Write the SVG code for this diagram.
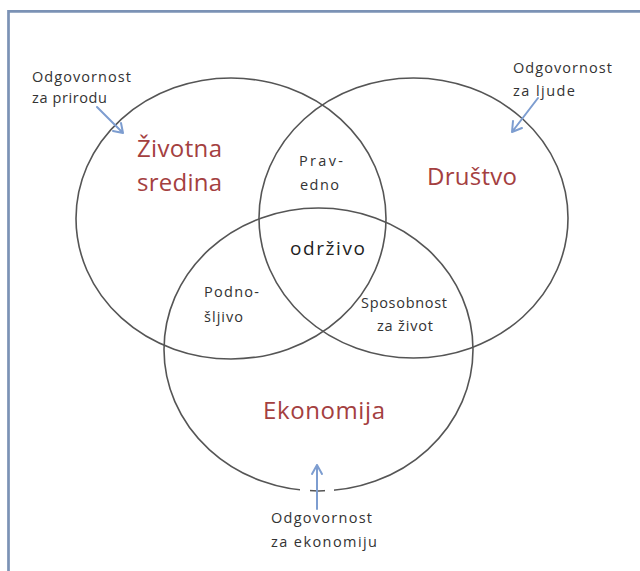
<svg xmlns="http://www.w3.org/2000/svg" width="640" height="571" viewBox="0 0 640 571">
<style>
.circ{fill:none;stroke:#555;stroke-width:1.6}
.big{font-family:"Open Sans","Liberation Sans",sans-serif;font-size:24px;fill:#a4403f}
.sm{font-family:"Open Sans","Liberation Sans",sans-serif;font-size:14.5px;fill:#333}
.mid{font-family:"Open Sans","Liberation Sans",sans-serif;font-size:19px;fill:#222}
.arr{fill:none;stroke:#7d9dd0;stroke-width:2;stroke-linecap:round;stroke-linejoin:round}
</style>
<rect width="640" height="571" fill="#fff"/>
<path d="M8.5,571 V11.3 H640" fill="none" stroke="#7b92b5" stroke-width="2.7"/>
<g id="zivotna-sredina">
<ellipse class="circ" cx="231" cy="218.5" rx="155" ry="140.5"/>
<text class="big" x="137" y="157" textLength="85" lengthAdjust="spacing">Životna</text>
<text class="big" x="137" y="191" textLength="85" lengthAdjust="spacing">sredina</text>
</g>
<g id="drustvo">
<ellipse class="circ" cx="413.5" cy="218" rx="154.5" ry="140"/>
<text class="big" x="427" y="185" textLength="90" lengthAdjust="spacing">Društvo</text>
</g>
<g id="ekonomija">
<ellipse class="circ" cx="318.5" cy="349.5" rx="154.5" ry="141.5"/>
<text class="big" x="263" y="419" textLength="122" lengthAdjust="spacing">Ekonomija</text>
</g>
<g id="pravedno">
<text class="sm" x="299" y="166" textLength="44" lengthAdjust="spacing">Prav-</text>
<text class="sm" x="300" y="190" textLength="39" lengthAdjust="spacing">edno</text>
</g>
<g id="odrzivo">
<text class="mid" x="290" y="255" textLength="75" lengthAdjust="spacing">održivo</text>
</g>
<g id="podnosljivo">
<text class="sm" x="204" y="297" textLength="55" lengthAdjust="spacing">Podno-</text>
<text class="sm" x="204" y="322" textLength="39" lengthAdjust="spacing">šljivo</text>
</g>
<g id="sposobnost">
<text class="sm" x="361" y="308" textLength="86" lengthAdjust="spacing">Sposobnost</text>
<text class="sm" x="377" y="331" textLength="56" lengthAdjust="spacing">za život</text>
</g>
<g id="odg-priroda">
<text class="sm" x="32" y="82" textLength="99" lengthAdjust="spacing">Odgovornost</text>
<text class="sm" x="32" y="103" textLength="75" lengthAdjust="spacing">za prirodu</text>
</g>
<g id="odg-ljude">
<text class="sm" x="513" y="73" textLength="99" lengthAdjust="spacing">Odgovornost</text>
<text class="sm" x="513" y="96" textLength="62" lengthAdjust="spacing">za ljude</text>
</g>
<g id="odg-ekonomija">
<rect x="300" y="487" width="10" height="8" fill="#fff"/>
<rect x="325" y="487" width="9" height="8" fill="#fff"/>
<text class="sm" x="271" y="523" textLength="101" lengthAdjust="spacing">Odgovornost</text>
<text class="sm" x="271" y="547" textLength="106" lengthAdjust="spacing">za ekonomiju</text>
</g>
<g id="connectors">
<path class="arr" d="M97,107 L123,133 M113,131 L123,133 L121,123"/>
<path class="arr" d="M538,98 L512,132 M513,121 L512,132 L522,128"/>
<path class="arr" d="M317,509 L317,465 M312,474 L317,465 L322,474"/>
</g>
</svg>
